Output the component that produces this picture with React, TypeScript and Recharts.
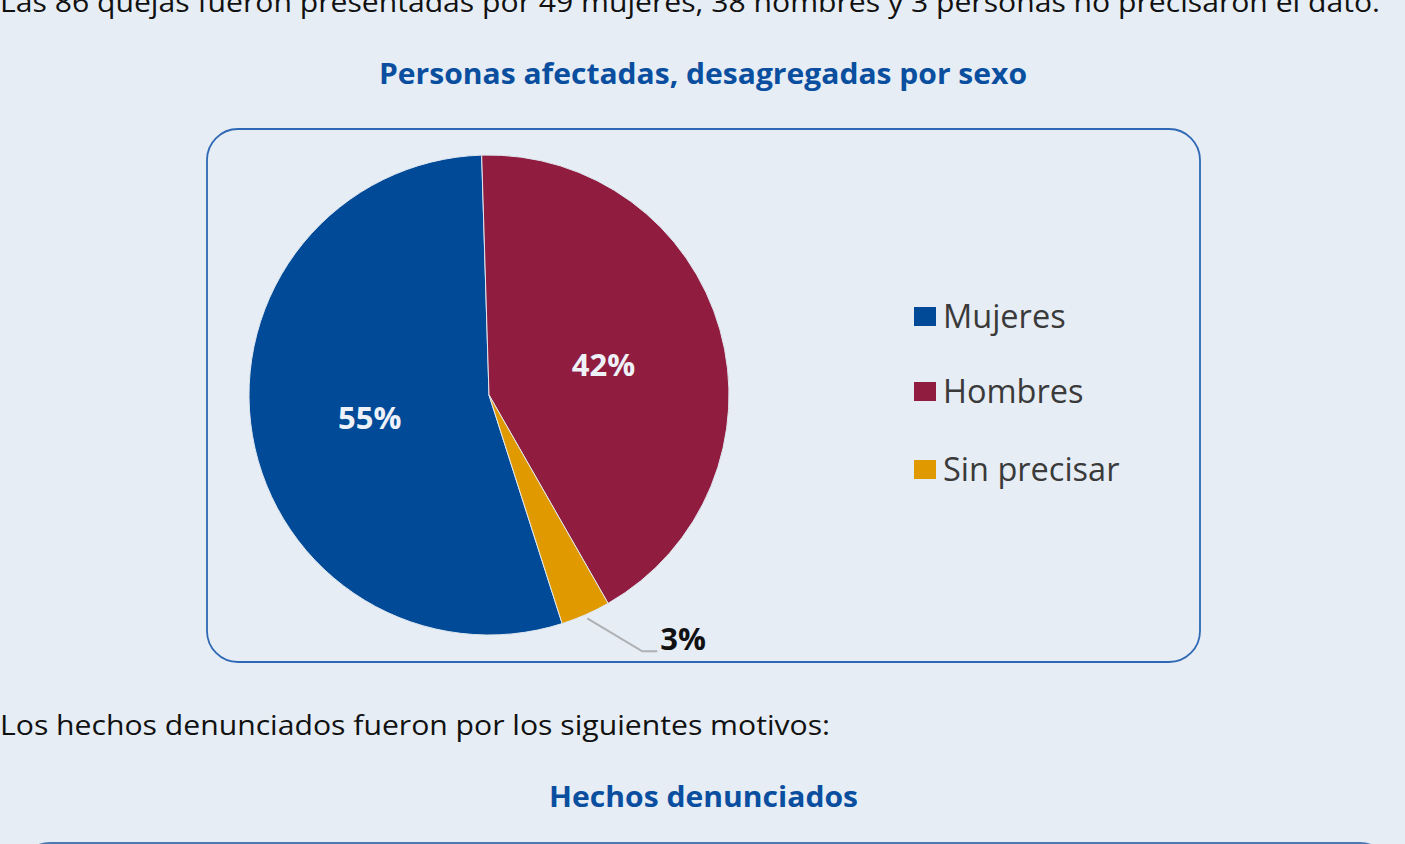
import React from "react";
import { PieChart, Pie, Cell } from "recharts";

const categories = ["Mujeres", "Hombres", "Sin precisar"];
const values = [49, 38, 3];
const percentLabels = ["55%", "42%", "3%"];
const colors = ["#004a98", "#901d40", "#e09a00"];

const introText =
  "Las 86 quejas fueron presentadas por 49 mujeres, 38 hombres y 3 personas no precisaron el dato.";
const chartTitle = "Personas afectadas, desagregadas por sexo";
const afterText = "Los hechos denunciados fueron por los siguientes motivos:";
const nextTitle = "Hechos denunciados";

const data = categories.map((name, i) => ({ name, value: values[i], label: percentLabels[i] }));

const BG = "#e6edf5";
const FONT = "'Open Sans', 'Noto Sans', sans-serif";
const RAD = Math.PI / 180;

const renderLabel = (props: any) => {
  const { cx, cy, midAngle, outerRadius, index } = props;
  const cos = Math.cos(-midAngle * RAD);
  const sin = Math.sin(-midAngle * RAD);
  if (index === 2) {
    const sx = cx + (outerRadius + 4) * cos;
    const sy = cy + (outerRadius + 4) * sin;
    const ex = sx + 55;
    const ey = sy + 33;
    const tx = ex + 15;
    return (
      <g key={`lbl-${index}`}>
        <polyline
          points={`${sx},${sy} ${ex},${ey} ${tx},${ey}`}
          fill="none"
          stroke="#aeb0b3"
          strokeWidth={2}
        />
        <text
          x={tx + 3}
          y={ey - 1}
          fill="#111111"
          fontFamily={FONT}
          fontWeight={700}
          fontSize={31}
          textAnchor="start"
        >
          {data[index].label}
        </text>
      </g>
    );
  }
  const r = outerRadius * 0.5;
  const x = cx + r * cos - 1;
  const y = cy + r * sin + 2;
  return (
    <text
      key={`lbl-${index}`}
      x={x}
      y={y}
      fill="#eef2f8"
      fontFamily={FONT}
      fontWeight={700}
      fontSize={31}
      textAnchor="middle"
      dominantBaseline="central"
    >
      {data[index].label}
    </text>
  );
};

export default function App() {
  const start = -72.25;
  return (
    <div
      style={{
        position: "fixed",
        left: 0,
        top: 0,
        width: 1405,
        height: 844,
        background: BG,
        overflow: "hidden",
        fontFamily: FONT,
      }}
    >
      <svg
        width={1405}
        height={844}
        style={{ position: "absolute", left: 0, top: 0 }}
      >
        <text x={0} y={12} fontSize={28} fontFamily={FONT} fill="#111" textLength={1380} lengthAdjust="spacingAndGlyphs">
          {introText}
        </text>
        <text x={379} y={84} fontSize={29} fontWeight={700} fontFamily={FONT} fill="#0a4f9f" textLength={648} lengthAdjust="spacingAndGlyphs">
          {chartTitle}
        </text>
        <rect x={207} y={129} width={993} height={533} rx={31} ry={31} fill="none" stroke="#2f68b4" strokeWidth={1.8} />
        <text x={0} y={735} fontSize={28} fontFamily={FONT} fill="#111" textLength={830} lengthAdjust="spacingAndGlyphs">
          {afterText}
        </text>
        <text x={549} y={807} fontSize={29} fontWeight={700} fontFamily={FONT} fill="#0a4f9f" textLength={309} lengthAdjust="spacingAndGlyphs">
          {nextTitle}
        </text>
        <rect x={20} y={843} width={1370} height={200} rx={30} ry={30} fill="none" stroke="#4a79b4" strokeWidth={2} />
      </svg>
      <div style={{ position: "absolute", left: 0, top: 0 }}>
        <PieChart width={1405} height={844} margin={{ top: 0, right: 0, bottom: 0, left: 0 }}>
          <Pie
            data={data}
            dataKey="value"
            nameKey="name"
            cx={489}
            cy={395}
            outerRadius={240}
            startAngle={start}
            endAngle={start - 360}
            stroke="#dfe7f0"
            strokeWidth={1}
            label={renderLabel}
            labelLine={false}
            isAnimationActive={false}
          >
            {data.map((d, i) => (
              <Cell key={d.name} fill={colors[i]} />
            ))}
          </Pie>
        </PieChart>
      </div>
      <div style={{ position: "absolute", left: 914, top: 0 }}>
        {categories.map((name, i) => {
          const tops = [298, 373, 451];
          return (
            <div
              key={name}
              style={{
                position: "absolute",
                left: 0,
                top: tops[i],
                display: "flex",
                alignItems: "center",
                whiteSpace: "nowrap",
                height: 36,
              }}
            >
              <div style={{ width: 22, height: 19, background: colors[i], marginRight: 7 }} />
              <span style={{ fontSize: 32.5, color: "#3a3a3a", fontFamily: FONT, lineHeight: "36px" }}>
                {name}
              </span>
            </div>
          );
        })}
      </div>
    </div>
  );
}
